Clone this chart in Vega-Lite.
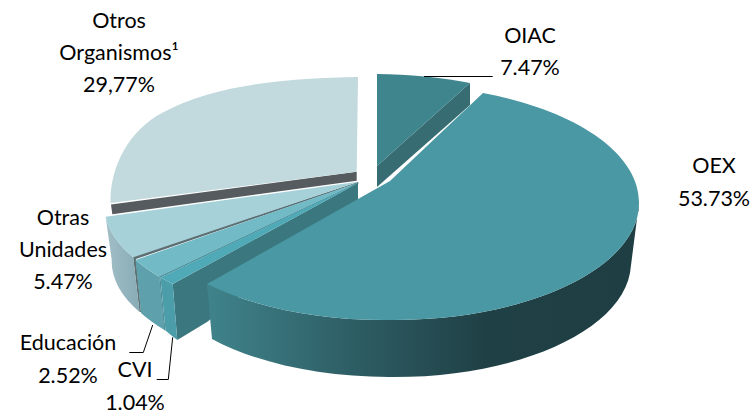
{"$schema":"https://vega.github.io/schema/vega-lite/v6.json","width":756,"height":416,"padding":0,"autosize":{"type":"fit","contains":"padding"},"background":"white","config":{"view":{"stroke":null}},"data":{"values":[{"slice":"Otros Organismos","share":29.77,"label":"Otros\nOrganismos¹\n29,77%"},{"slice":"OIAC","share":7.47,"label":"OIAC\n7.47%"},{"slice":"Otras Unidades","share":5.47,"label":"Otras\nUnidades\n5.47%"},{"slice":"Educación","share":2.52,"label":"Educación\n2.52%"},{"slice":"CVI","share":1.04,"label":"CVI\n1.04%"},{"slice":"OEX","share":53.73,"label":"OEX\n53.73%"}]},"resolve":{"scale":{"shape":"independent","fill":"independent"}},"layer":[{"transform":[{"filter":{"field":"slice","oneOf":["Otros Organismos","OIAC","Otras Unidades","Educación","CVI"]}}],"mark":{"type":"point","filled":true,"opacity":1,"strokeWidth":0},"encoding":{"x":{"value":0},"y":{"value":0},"size":{"value":4},"shape":{"field":"slice","type":"nominal","legend":null,"scale":{"domain":["Otros Organismos","OIAC","Otras Unidades","Educación","CVI"],"range":["M356.7,171.7 L111,204.5 L112.3,214.3 L356.7,180.7 Z","M470,83 L470,105 L377,187 L377,166 Z","M358,182 L133,256 L139.5,312 L141,312 L136,259 L358.5,183 Z","M358,182.5 L159,276 L164,330 L165.5,330.5 L160.5,277.5 L358.5,183.5 Z","M358,183 L172.7,284 L177.3,340 L207,322 L358,205 Z"]}},"fill":{"field":"slice","type":"nominal","legend":null,"scale":{"domain":["Otros Organismos","OIAC","Otras Unidades","Educación","CVI"],"range":["#555b5e","#366c72","#5d6f73","#4f8a94","#3a777e"]}}}},{"transform":[{"filter":{"field":"slice","oneOf":["Educación","CVI"]}}],"mark":{"type":"point","filled":true,"opacity":1,"strokeWidth":0},"encoding":{"x":{"value":0},"y":{"value":0},"size":{"value":4},"shape":{"field":"slice","type":"nominal","legend":null,"scale":{"domain":["Educación","CVI"],"range":["M135.5,260 A250,115 0 0 0 159.3,276.7 L164.5,330 A250,115 0 0 1 141,313 Z","M160.5,277.5 A250,115 0 0 0 172.7,284 L177.3,340 A250,115 0 0 1 165.5,330.5 Z"]}},"fill":{"field":"slice","type":"nominal","legend":null,"scale":{"domain":["Educación","CVI"],"range":["#5ea1ac","#4b9da9"]}}}},{"transform":[{"filter":{"field":"slice","equal":"Otras Unidades"}}],"mark":{"type":"point","filled":true,"opacity":1,"strokeWidth":0,"fill":{"gradient":"linear","x1":0,"x2":1,"y1":0,"y2":0,"stops":[{"offset":0,"color":"#a2bec6"},{"offset":1,"color":"#87acb6"}]}},"encoding":{"x":{"value":0},"y":{"value":0},"size":{"value":4},"shape":{"field":"slice","type":"nominal","legend":null,"scale":{"domain":["Otras Unidades"],"range":["M105.7,216.7 A250,110 0 0 0 133.3,257.3 L139.5,312 A250,110 0 0 1 111.7,260 Z"]}}}},{"transform":[{"filter":{"field":"slice","equal":"OEX"}}],"mark":{"type":"point","filled":true,"opacity":1,"strokeWidth":0,"fill":{"gradient":"linear","x1":0,"x2":1,"y1":0,"y2":0,"stops":[{"offset":0,"color":"#40838b"},{"offset":0.35,"color":"#2d5c63"},{"offset":0.65,"color":"#1f4045"},{"offset":1,"color":"#1e3e43"}]}},"encoding":{"x":{"value":0},"y":{"value":0},"size":{"value":4},"shape":{"field":"slice","type":"nominal","legend":null,"scale":{"domain":["OEX"],"range":["M207,284 A246,117 0 0 0 393,320 A246,117 0 0 0 639,203 L630,273 A237,114 0 0 1 393,377 A237,114 0 0 1 212,339 Z"]}}}},{"mark":{"type":"point","filled":true,"opacity":1,"strokeWidth":0},"encoding":{"x":{"value":0},"y":{"value":0},"size":{"value":4},"shape":{"field":"slice","type":"nominal","legend":null,"scale":{"domain":["Otros Organismos","OIAC","Otras Unidades","Educación","CVI","OEX"],"range":["M358,77 C290,78 215,84 162,113 C130,130 110,165 110.5,203 L356.7,171.7 Z","M377,74 A230,100 0 0 1 470,83 L377,166 Z","M358.3,181.7 L105.7,216.7 A250,110 0 0 0 133.3,257.3 Z","M358.3,182.5 L135.5,260 A250,115 0 0 0 159.3,276.7 Z","M358.3,183 L160.5,277.5 A250,115 0 0 0 172.7,284 Z","M483,93 A246,117 0 0 1 639,203 A246,117 0 0 1 393,320 A246,117 0 0 1 207,284 L390,181 Z"]}},"fill":{"field":"slice","type":"nominal","legend":null,"scale":{"domain":["Otros Organismos","OIAC","Otras Unidades","Educación","CVI","OEX"],"range":["#c2d9de","#3f858d","#a6d1d9","#73bac7","#4fa9b7","#4a98a3"]}}}},{"transform":[{"filter":{"field":"slice","oneOf":["OIAC","Educación","CVI"]}}],"mark":{"type":"point","filled":false,"opacity":1,"stroke":"#000000","strokeWidth":1},"encoding":{"x":{"value":0},"y":{"value":0},"size":{"value":4},"shape":{"field":"slice","type":"nominal","legend":null,"scale":{"domain":["OIAC","Educación","CVI"],"range":["M424,76.5 L492.7,76.5","M152.7,325 L143.3,352.5 L129.3,352.5","M172.7,337.3 L168.3,379.5 L156.7,379.5"]}}}},{"transform":[{"filter":{"field":"slice","equal":"OIAC"}}],"mark":{"type":"text","font":"Lato","fontSize":21.5,"lineBreak":"\n","lineHeight":32,"baseline":"middle","color":"#000000"},"encoding":{"text":{"field":"label"},"x":{"value":530},"y":{"value":37}}},{"transform":[{"filter":{"field":"slice","equal":"OEX"}}],"mark":{"type":"text","font":"Lato","fontSize":21.5,"lineBreak":"\n","lineHeight":33,"baseline":"middle","color":"#000000"},"encoding":{"text":{"field":"label"},"x":{"value":714},"y":{"value":167}}},{"transform":[{"filter":{"field":"slice","equal":"Otros Organismos"}}],"mark":{"type":"text","font":"Lato","fontSize":21.5,"lineBreak":"\n","lineHeight":32,"baseline":"middle","color":"#000000"},"encoding":{"text":{"field":"label"},"x":{"value":119},"y":{"value":22}}},{"transform":[{"filter":{"field":"slice","equal":"Otras Unidades"}}],"mark":{"type":"text","font":"Lato","fontSize":21.5,"lineBreak":"\n","lineHeight":32,"baseline":"middle","color":"#000000"},"encoding":{"text":{"field":"label"},"x":{"value":63},"y":{"value":219}}},{"transform":[{"filter":{"field":"slice","equal":"Educación"}}],"mark":{"type":"text","font":"Lato","fontSize":21.5,"lineBreak":"\n","lineHeight":33,"baseline":"middle","color":"#000000"},"encoding":{"text":{"field":"label"},"x":{"value":68},"y":{"value":344}}},{"transform":[{"filter":{"field":"slice","equal":"CVI"}}],"mark":{"type":"text","font":"Lato","fontSize":21.5,"lineBreak":"\n","lineHeight":33,"baseline":"middle","color":"#000000"},"encoding":{"text":{"field":"label"},"x":{"value":135},"y":{"value":371}}}]}
